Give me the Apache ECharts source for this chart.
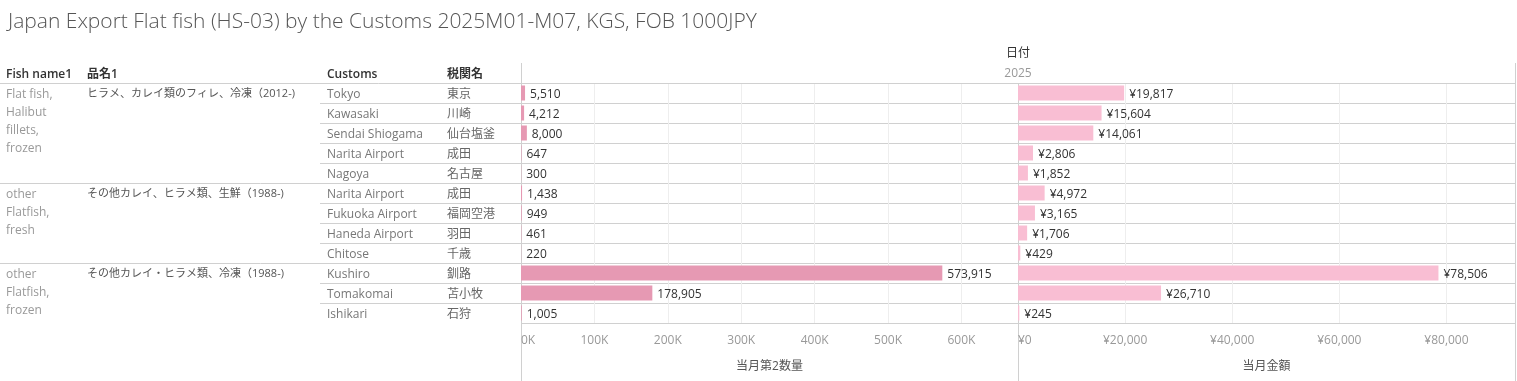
<!DOCTYPE html>
<html>
<head>
<meta charset="utf-8">
<script src="https://cdn.jsdelivr.net/npm/echarts@6/dist/echarts.min.js"></script>
<style>
html,body{margin:0;padding:0;background:#fff;}
#chart{width:1517px;height:381px;}
</style>
</head>
<body>
<div id="chart"></div>
<script>
const titleText = 'Japan Export Flat fish (HS-03) by the Customs 2025M01-M07, KGS, FOB 1000JPY';
const headers = ['Fish name1', '品名1', 'Customs', '税関名'];
const fishNames = ['Flat fish, Halibut fillets, frozen', 'other Flatfish, fresh', 'other Flatfish, frozen'];
const itemNamesJa = ['ヒラメ、カレイ類のフィレ、冷凍（2012-)', 'その他カレイ、ヒラメ類、生鮮（1988-)', 'その他カレイ・ヒラメ類、冷凍（1988-)'];
const groupSizes = [5, 4, 3];
const customs = ['Tokyo', 'Kawasaki', 'Sendai Shiogama', 'Narita Airport', 'Nagoya', 'Narita Airport', 'Fukuoka Airport', 'Haneda Airport', 'Chitose', 'Kushiro', 'Tomakomai', 'Ishikari'];
const customsJa = ['東京', '川崎', '仙台塩釜', '成田', '名古屋', '成田', '福岡空港', '羽田', '千歳', '釧路', '苫小牧', '石狩'];
const quantity = [5510, 4212, 8000, 647, 300, 1438, 949, 461, 220, 573915, 178905, 1005];
const amount = [19817, 15604, 14061, 2806, 1852, 4972, 3165, 1706, 429, 78506, 26710, 245];
const dateHeader = '日付';
const yearLabel = '2025';
const qtyName = '当月第2数量';
const amtName = '当月金額';

const FONT = "'Open Sans', 'Noto Sans CJK JP', sans-serif";
const idx = customs.map((c, i) => String(i));
const fmt = v => Number(v).toLocaleString('en-US');

// word wrap helper for the Fish name column
const ctx = document.createElement('canvas').getContext('2d');
function wrapWords(text, font, maxW) {
  ctx.font = font;
  const words = text.split(' ');
  const lines = [];
  let cur = '';
  words.forEach(w => {
    const t = cur ? cur + ' ' + w : w;
    if (cur && ctx.measureText(t).width > maxW) { lines.push(cur); cur = w; }
    else cur = t;
  });
  if (cur) lines.push(cur);
  return lines.join('\n');
}

const chart = echarts.init(document.getElementById('chart'));

const gridTop = 83, gridH = 240;
const option = {
  animation: false,
  textStyle: { fontFamily: FONT },
  title: {
    text: titleText, left: 3, top: 7,
    textStyle: { fontFamily: FONT, fontSize: 21, fontWeight: 300, color: '#555' }
  },
  grid: [
    { left: 521, width: 497, top: gridTop, height: gridH },
    { left: 1018, width: 497, top: gridTop, height: gridH }
  ],
  xAxis: [
    {
      gridIndex: 0, type: 'value', min: 0, max: 677000, interval: 100000,
      name: qtyName, nameLocation: 'middle', nameGap: 38,
      nameTextStyle: { color: '#555', fontSize: 12, fontFamily: FONT },
      axisLine: { show: false }, axisTick: { show: false },
      axisLabel: { color: '#999', fontSize: 12, margin: 12, showMaxLabel: false, alignMinLabel: 'left',
        formatter: v => (v / 1000) + 'K' },
      splitLine: { lineStyle: { color: '#eeeeee' } }
    },
    {
      gridIndex: 1, type: 'value', min: 0, max: 92800, interval: 20000,
      name: amtName, nameLocation: 'middle', nameGap: 38,
      nameTextStyle: { color: '#555', fontSize: 12, fontFamily: FONT },
      axisLine: { show: false }, axisTick: { show: false },
      axisLabel: { color: '#999', fontSize: 12, margin: 12, showMaxLabel: false, alignMinLabel: 'left',
        formatter: v => '¥' + fmt(v) },
      splitLine: { lineStyle: { color: '#eeeeee' } }
    }
  ],
  yAxis: [
    {
      gridIndex: 0, type: 'category', data: idx, inverse: true,
      axisLine: { show: false }, axisTick: { show: false },
      axisLabel: { align: 'left', margin: 194, formatter: v => '{a|' + customs[+v] + '}',
        rich: { a: { color: '#777', fontSize: 12, fontFamily: FONT, padding: [3, 0, 0, 0] } } },
      splitLine: { show: true, lineStyle: { color: '#d0d0d0' } }
    },
    {
      gridIndex: 0, type: 'category', data: idx, inverse: true, position: 'left',
      axisLine: { show: false }, axisTick: { show: false },
      axisLabel: { align: 'left', margin: 74, formatter: v => '{a|' + customsJa[+v] + '}',
        rich: { a: { color: '#666', fontSize: 12, fontFamily: FONT, padding: [3, 0, 0, 0] } } },
      splitLine: { show: false }
    },
    {
      gridIndex: 1, type: 'category', data: idx, inverse: true,
      axisLine: { show: false }, axisTick: { show: false },
      axisLabel: { show: false },
      splitLine: { show: true, lineStyle: { color: '#d0d0d0' } }
    }
  ],
  series: [
    {
      type: 'bar', xAxisIndex: 0, yAxisIndex: 0, data: quantity, barWidth: 15,
      itemStyle: { color: '#e699b3' },
      label: { show: true, position: 'right', distance: 5, offset: [0, 1.5], color: '#333', fontSize: 12, fontFamily: FONT,
        formatter: p => fmt(p.value) }
    },
    {
      type: 'bar', xAxisIndex: 1, yAxisIndex: 2, data: amount, barWidth: 15,
      itemStyle: { color: '#f9bed3' },
      label: { show: true, position: 'right', distance: 5, offset: [0, 1.5], color: '#333', fontSize: 12, fontFamily: FONT,
        formatter: p => '¥' + fmt(p.value) }
    }
  ]
};
chart.setOption(option);

// table structure derived from the axes
const c0 = chart.convertToPixel({ yAxisIndex: 0 }, '0');
const c1 = chart.convertToPixel({ yAxisIndex: 0 }, '1');
const band = c1 - c0;
const rowTop = i => chart.convertToPixel({ yAxisIndex: 0 }, String(i)) - band / 2;
const xL = chart.convertToPixel({ xAxisIndex: 0 }, 0);
const xM = chart.convertToPixel({ xAxisIndex: 1 }, 0);
const xR = chart.convertToPixel({ xAxisIndex: 1 }, 92800);
const yTop = rowTop(0);
const yBot = rowTop(customs.length);
const H = chart.getHeight();
const lineCol = '#d0d0d0';
const g = [];
const hline = (x1, x2, y) => g.push({ type: 'line', shape: { x1, y1: Math.round(y) + 0.5, x2, y2: Math.round(y) + 0.5 }, style: { stroke: lineCol, lineWidth: 1 }, silent: true });
const vline = (x, y1, y2) => g.push({ type: 'line', shape: { x1: Math.round(x) + 0.5, y1, x2: Math.round(x) + 0.5, y2 }, style: { stroke: lineCol, lineWidth: 1 }, silent: true });

hline(0, xR, yTop);
const colX = [6, 87, 327, 447];
headers.forEach((h, i) => g.push({ type: 'text', x: colX[i], y: yTop - 8,
  style: { text: h, fill: '#333', font: '600 12px ' + FONT, verticalAlign: 'middle' } }));

const fishFont = '12px ' + FONT;
let start = 0;
groupSizes.forEach((n, gi) => {
  const top = rowTop(start);
  g.push({ type: 'text', x: colX[0], y: top + 2,
    style: { text: wrapWords(fishNames[gi], "12px 'Open Sans'", 62), fill: '#999', font: fishFont, lineHeight: 18.3, verticalAlign: 'top' } });
  g.push({ type: 'text', x: colX[1], y: top + band / 2 + 1,
    style: { text: itemNamesJa[gi], fill: '#555', font: '11px ' + FONT, verticalAlign: 'middle' } });
  for (let k = 1; k < n; k++) hline(320, xL, rowTop(start + k));
  start += n;
  hline(0, xL, rowTop(start));
});
hline(xL, xR, yBot);

vline(xL, yTop - 20, H);
vline(xM, yTop, H);
vline(xR, yTop - 20, H);

g.push({ type: 'text', x: xM, y: yTop - 29, style: { text: dateHeader, fill: '#333', font: '12px ' + FONT, align: 'center', verticalAlign: 'middle' } });
g.push({ type: 'text', x: xM, y: yTop - 9, style: { text: yearLabel, fill: '#999', font: '12px ' + FONT, align: 'center', verticalAlign: 'middle' } });

chart.setOption({ graphic: { elements: g } });
</script>
</body>
</html>
